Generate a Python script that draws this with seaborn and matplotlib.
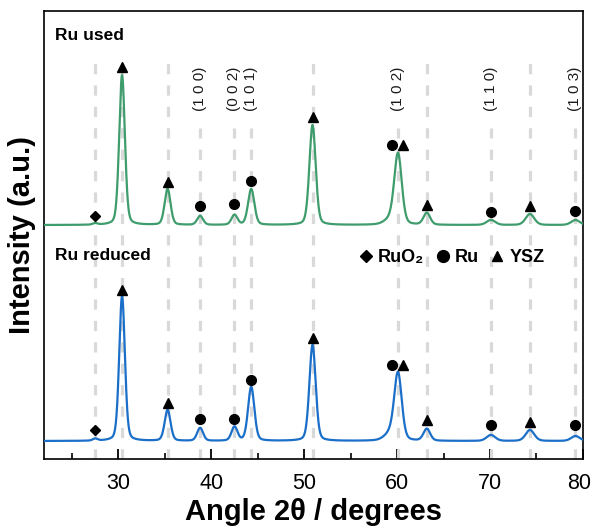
import numpy as np
import pandas as pd
import matplotlib
matplotlib.use("Agg")
import matplotlib.pyplot as plt
import matplotlib.transforms as mtransforms
from matplotlib.lines import Line2D
import seaborn as sns

# ---------------- data ----------------
# peak centres (2theta, deg), FWHM (deg) and heights (a.u. above baseline)
peak_pos = [27.5, 30.4, 35.3, 38.8, 42.5, 44.3, 50.9, 59.3, 60.1, 63.2, 70.1, 74.3, 79.2]
peak_fwhm = [0.6, 0.72, 0.75, 0.75, 0.75, 0.8, 0.8, 1.5, 0.95, 0.85, 1.1, 1.1, 1.1]
used_heights = [1.5, 150, 36, 9, 10, 36, 100, 5, 70, 12, 5, 11, 5]
reduced_heights = [2, 145, 31, 13, 14, 54, 96, 7, 66, 12, 6, 11, 5]
used_baseline = 234
reduced_baseline = 18

# reference lines
ref_lines = [27.5, 30.4, 35.3, 38.8, 42.5, 44.3, 50.9, 60.1, 63.2, 70.1, 74.3, 79.2]
hkl_pos = [38.8, 42.5, 44.3, 60.1, 70.1, 79.2]
hkl_text = ["(1 0 0)", "(0 0 2)", "(1 0 1)", "(1 0 2)", "(1 1 0)", "(1 0 3)"]

# phase markers
ruo2_x = [27.5]
ruo2_used_y = [243]
ruo2_red_y = [29]
ru_x = [38.8, 42.5, 44.3, 59.5, 70.1, 79.2]
ru_used_y = [253, 255, 278, 314, 247, 248]
ru_red_y = [40, 40, 79, 94, 34, 34]
ysz_x = [30.4, 35.3, 50.9, 60.6, 63.2, 74.3]
ysz_used_y = [392, 277, 342, 314, 254, 253]
ysz_red_y = [169, 56, 121, 94, 39, 37]

samples = ["Ru used", "Ru reduced"]
colors = {"Ru used": "#3f9c6c", "Ru reduced": "#1b6fc8"}
x_ticks = [30, 40, 50, 60, 70, 80]
x_minor = [25, 35, 45, 55, 65, 75]

# ---------------- build patterns ----------------
theta = np.linspace(22, 80, 2321)


def pattern(heights, base):
    y = np.full_like(theta, float(base))
    for c, w, h in zip(peak_pos, peak_fwhm, heights):
        g = np.exp(-4 * np.log(2) * ((theta - c) / w) ** 2)
        l = 1.0 / (1.0 + 4 * ((theta - c) / w) ** 2)
        y += h * (0.75 * g + 0.25 * l)
    return y


df = pd.concat([
    pd.DataFrame({"theta": theta, "I": pattern(used_heights, used_baseline), "sample": "Ru used"}),
    pd.DataFrame({"theta": theta, "I": pattern(reduced_heights, reduced_baseline), "sample": "Ru reduced"}),
])

# ---------------- plot ----------------
sns.set_theme(style="white")
plt.rcParams["font.family"] = ["Liberation Sans", "DejaVu Sans"]
plt.rcParams["text.color"] = "black"
plt.rcParams["axes.labelcolor"] = "black"
plt.rcParams["xtick.color"] = "black"
plt.rcParams["ytick.color"] = "black"

fig = plt.figure(figsize=(5.93, 5.27), dpi=100)
ax = fig.add_axes([0.0742, 0.129, 0.9088, 0.850])

# dashed reference lines
for x in ref_lines:
    top = 331 if x in hkl_pos else 402
    ax.plot([x, x], [0, top], color="#d9d9d9", lw=2.3, ls=(0, (3.2, 3.5)), zorder=1,
            solid_capstyle="butt")

sns.lineplot(data=df, x="theta", y="I", hue="sample", palette=colors, lw=1.6,
             legend=False, ax=ax, zorder=3, sort=False)

# markers
mk = dict(color="black", ls="none", zorder=4)
ax.plot(ruo2_x, ruo2_used_y, marker="D", ms=5.5, **mk)
ax.plot(ruo2_x, ruo2_red_y, marker="D", ms=5.5, **mk)
ax.plot(ru_x, ru_used_y, marker="o", ms=7, **mk)
ax.plot(ru_x, ru_red_y, marker="o", ms=7, **mk)
ax.plot(ysz_x, ysz_used_y, marker="^", ms=6.5, **mk)
ax.plot(ysz_x, ysz_red_y, marker="^", ms=6.5, **mk)

# hkl labels
for x, t in zip(hkl_pos, hkl_text):
    ax.text(x, 370, t, rotation=90, ha="center", va="center", fontsize=11, color="#1a1a1a")

# sample labels
ax.text(0.021, 0.946, samples[0], transform=ax.transAxes, fontsize=12.5,
        fontweight="bold", ha="left", va="center")
ax.text(0.021, 0.455, samples[1], transform=ax.transAxes, fontsize=12.5,
        fontweight="bold", ha="left", va="center")

# legend
handles = [Line2D([], [], color="black", marker="D", ls="none", ms=6),
           Line2D([], [], color="black", marker="o", ls="none", ms=8.5),
           Line2D([], [], color="black", marker="^", ls="none", ms=6.5)]
leg = ax.legend(handles, ["RuO\u2082", "Ru", "YSZ"], ncol=3, frameon=False,
                loc="center right", bbox_to_anchor=(0.96, 0.449),
                handlelength=0.8, handletextpad=0.3, columnspacing=0.6,
                prop={"weight": "bold", "size": 13})

ax.set_xlim(22, 80)
ax.set_ylim(0, 448)
ax.set_yticks([])
ax.set_xticks(x_ticks)
ax.set_xticks(x_minor, minor=True)
ax.tick_params(axis="x", which="major", direction="in", length=7, width=1.3,
               labelsize=15.5, pad=10, bottom=True, color="black")
ax.tick_params(axis="x", which="minor", direction="in", length=4.5, width=1.2,
               bottom=True, color="black")
ax.set_xlabel("Angle 2\u03b8 / degrees", fontsize=21, fontweight="bold", labelpad=3)
ax.set_ylabel("Intensity (a.u.)", fontsize=21, fontweight="bold", labelpad=6)
for s in ax.spines.values():
    s.set_color("black")
    s.set_linewidth(1.2)

# nudge the last tick label inward so it stays inside the canvas
last = ax.get_xticklabels()[-1]
last.set_transform(last.get_transform() +
                   mtransforms.ScaledTranslation(-4 / 100, 0, fig.dpi_scale_trans))

fig.savefig("out.png", dpi=100)
